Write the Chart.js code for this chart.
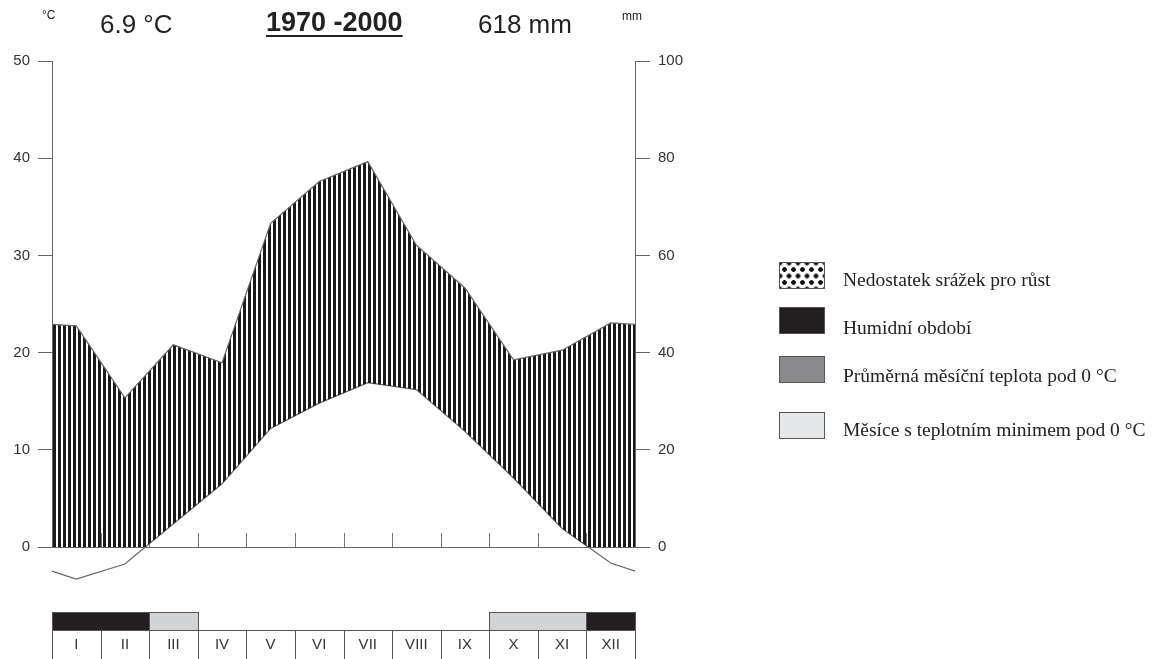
<!DOCTYPE html>
<html>
<head>
<meta charset="utf-8">
<title>Klimadiagram 1970-2000</title>
<script src="https://cdn.jsdelivr.net/npm/chart.js@4.4.1/dist/chart.umd.min.js"></script>
<style>
  html, body { margin: 0; padding: 0; background: #fff; }
  #wrap { position: relative; width: 1157px; height: 659px; overflow: hidden;
          font-family: "Liberation Sans", Arial, sans-serif; color: #222; }
  #wrap canvas { position: absolute; left: 0; top: 0; }
  .t { position: absolute; line-height: 1; white-space: nowrap; }
  .lg { position: absolute; left: 843px; font-family: "Liberation Serif", "Times New Roman", serif;
        font-size: 19.5px; line-height: 1; color: #222; white-space: nowrap; }
  .sw { position: absolute; left: 779px; width: 44px; height: 25px; border: 1px solid #555; }
  .dots { background-color: #fff;
          background-image: radial-gradient(circle, #111 0 2px, transparent 2.6px),
                            radial-gradient(circle, #111 0 2px, transparent 2.6px);
          background-size: 9px 13px; background-position: 0 0, 4.5px 6.5px; }
</style>
</head>
<body>
<div id="wrap">
  <canvas id="c" width="1157" height="659"></canvas>

  <div class="t" style="left:42px; top:9px; font-size:12px;">°C</div>
  <div class="t" style="left:100px; top:11px; font-size:26px;">6.9 °C</div>
  <div class="t" style="left:266px; top:9px; font-size:27px; font-weight:bold; text-decoration:underline; text-decoration-thickness:2px; text-underline-offset:4px;">1970 -2000</div>
  <div class="t" style="left:478px; top:11px; font-size:26px;">618 mm</div>
  <div class="t" style="left:622px; top:10px; font-size:12px;">mm</div>

  <div class="sw dots" style="top:262px;"></div>
  <div class="lg" style="top:270px;">Nedostatek srážek pro růst</div>
  <div class="sw" style="top:307px; background:#231f20;"></div>
  <div class="lg" style="top:318px;">Humidní období</div>
  <div class="sw" style="top:356px; background:#8a8a8c;"></div>
  <div class="lg" style="top:366px;">Průměrná měsíční teplota pod 0 °C</div>
  <div class="sw" style="top:412px; background:#e6e7e8;"></div>
  <div class="lg" style="top:420px;">Měsíce s teplotním minimem pod 0 °C</div>
</div>

<script>
// Monthly normals 1970-2000
const months = ['I', 'II', 'III', 'IV', 'V', 'VI', 'VII', 'VIII', 'IX', 'X', 'XI', 'XII'];
const tempC = [-3.3, -1.75, 2.4, 6.5, 12.2, 14.8, 16.9, 16.2, 11.9, 7.1, 1.9, -1.65];
const precipMm = [45.5, 30.7, 41.6, 37.9, 66.6, 75.2, 79.3, 62.1, 53.3, 38.5, 40.5, 46.1];
const tempTicks = [0, 10, 20, 30, 40, 50];
const precipTicks = [0, 20, 40, 60, 80, 100];
// month strip classes: 'dark' = humid period, 'light' = months with minimum below 0 °C
const stripCodes = ['dark', 'dark', 'light', '', '', '', '', '', '', 'light', 'light', 'dark'];

const FONT = '"Liberation Sans", Arial, sans-serif';
const AXIS_GREY = '#666';

// Points at month centres, padded at both ends with the December/January mean
function withEdges(vals) {
  const edge = (vals[0] + vals[vals.length - 1]) / 2;
  const pts = vals.map((v, i) => ({ x: i + 0.5, y: v }));
  return [{ x: 0, y: edge }, ...pts, { x: vals.length, y: edge }];
}

// Vertical hatching: 3 px dark stripe, 2 px gap
const tile = document.createElement('canvas');
tile.width = 5; tile.height = 8;
const tctx = tile.getContext('2d');
tctx.fillStyle = '#1a1a1a';
tctx.fillRect(1, 0, 3, 8);
const ctx = document.getElementById('c').getContext('2d');
const hatch = ctx.createPattern(tile, 'repeat');

const hatchAlign = {
  id: 'hatchAlign',
  afterLayout(chart) {
    const x0 = Math.round(chart.scales.x.getPixelForValue(0));
    hatch.setTransform(new DOMMatrix().translateSelf(x0, 0));
  }
};

const monthStrip = {
  id: 'monthStrip',
  beforeDatasetsDraw(chart) {
    const { ctx, scales: { x, yT } } = chart;
    const y0 = yT.getPixelForValue(0);
    ctx.save();
    ctx.strokeStyle = '#777';
    ctx.lineWidth = 1;
    for (let m = 1; m < months.length; m++) {
      const px = Math.round(x.getPixelForValue(m)) + 0.5;
      ctx.beginPath();
      ctx.moveTo(px, y0);
      ctx.lineTo(px, y0 - 14);
      ctx.stroke();
    }
    ctx.restore();
  },
  afterDatasetsDraw(chart) {
    const { ctx, chartArea, scales: { x, yT } } = chart;
    const y0 = Math.round(yT.getPixelForValue(0)) + 0.5;
    ctx.save();
    // zero line
    ctx.strokeStyle = AXIS_GREY;
    ctx.lineWidth = 1;
    ctx.beginPath();
    ctx.moveTo(chartArea.left, y0);
    ctx.lineTo(chartArea.right, y0);
    ctx.stroke();

    // coloured month bar
    const top = 612.5, mid = 630.5, bottom = 662;
    const px = m => Math.round(x.getPixelForValue(m)) + 0.5;
    let i = 0;
    while (i < stripCodes.length) {
      const code = stripCodes[i];
      let j = i;
      while (j + 1 < stripCodes.length && stripCodes[j + 1] === code) j++;
      if (code) {
        const a = px(i), b = px(j + 1);
        ctx.fillStyle = code === 'dark' ? '#231f20' : '#d1d3d4';
        ctx.fillRect(a, top, b - a, mid - top);
        ctx.strokeStyle = '#555';
        ctx.strokeRect(a, top, b - a, mid - top);
      }
      i = j + 1;
    }
    // month label cells
    ctx.strokeStyle = '#555';
    ctx.beginPath();
    ctx.moveTo(px(0), mid);
    ctx.lineTo(px(months.length), mid);
    for (let m = 0; m <= months.length; m++) {
      ctx.moveTo(px(m), mid);
      ctx.lineTo(px(m), bottom);
    }
    ctx.stroke();
    ctx.fillStyle = '#333';
    ctx.font = '15px ' + FONT;
    ctx.textAlign = 'center';
    ctx.textBaseline = 'middle';
    months.forEach((mName, k) => {
      ctx.fillText(mName, x.getPixelForValue(k + 0.5), 645);
    });
    ctx.restore();
  }
};

new Chart(ctx, {
  type: 'line',
  data: {
    datasets: [
      {
        label: 'Srážky (mm)',
        data: withEdges(precipMm),
        yAxisID: 'yP',
        borderColor: AXIS_GREY,
        borderWidth: 1.2,
        pointRadius: 0,
        tension: 0,
        fill: 1,
        backgroundColor: hatch,
        clip: false
      },
      {
        label: 'Teplota (°C)',
        data: withEdges(tempC),
        yAxisID: 'yT',
        borderColor: AXIS_GREY,
        borderWidth: 1.2,
        pointRadius: 0,
        tension: 0,
        fill: false,
        clip: false
      }
    ]
  },
  options: {
    responsive: false,
    animation: false,
    events: [],
    layout: { padding: { left: 0, top: 61, right: 462, bottom: 112 } },
    plugins: { legend: { display: false }, tooltip: { enabled: false } },
    scales: {
      x: { type: 'linear', min: 0, max: months.length, display: false },
      yT: {
        position: 'left',
        min: 0, max: 50,
        afterBuildTicks: s => { s.ticks = tempTicks.map(v => ({ value: v })); },
        afterFit: s => { s.width = 52; },
        grid: { drawOnChartArea: false, tickLength: 14, color: AXIS_GREY, lineWidth: 1 },
        border: { color: AXIS_GREY, width: 1 },
        ticks: { padding: 8, color: '#333', font: { family: FONT, size: 15 } }
      },
      yP: {
        position: 'right',
        min: 0, max: 100,
        afterBuildTicks: s => { s.ticks = precipTicks.map(v => ({ value: v })); },
        afterFit: s => { s.width = 60; },
        grid: { drawOnChartArea: false, tickLength: 15, color: AXIS_GREY, lineWidth: 1 },
        border: { color: AXIS_GREY, width: 1 },
        ticks: { padding: 8, color: '#333', font: { family: FONT, size: 15 } }
      }
    }
  },
  plugins: [hatchAlign, monthStrip]
});
</script>
</body>
</html>
